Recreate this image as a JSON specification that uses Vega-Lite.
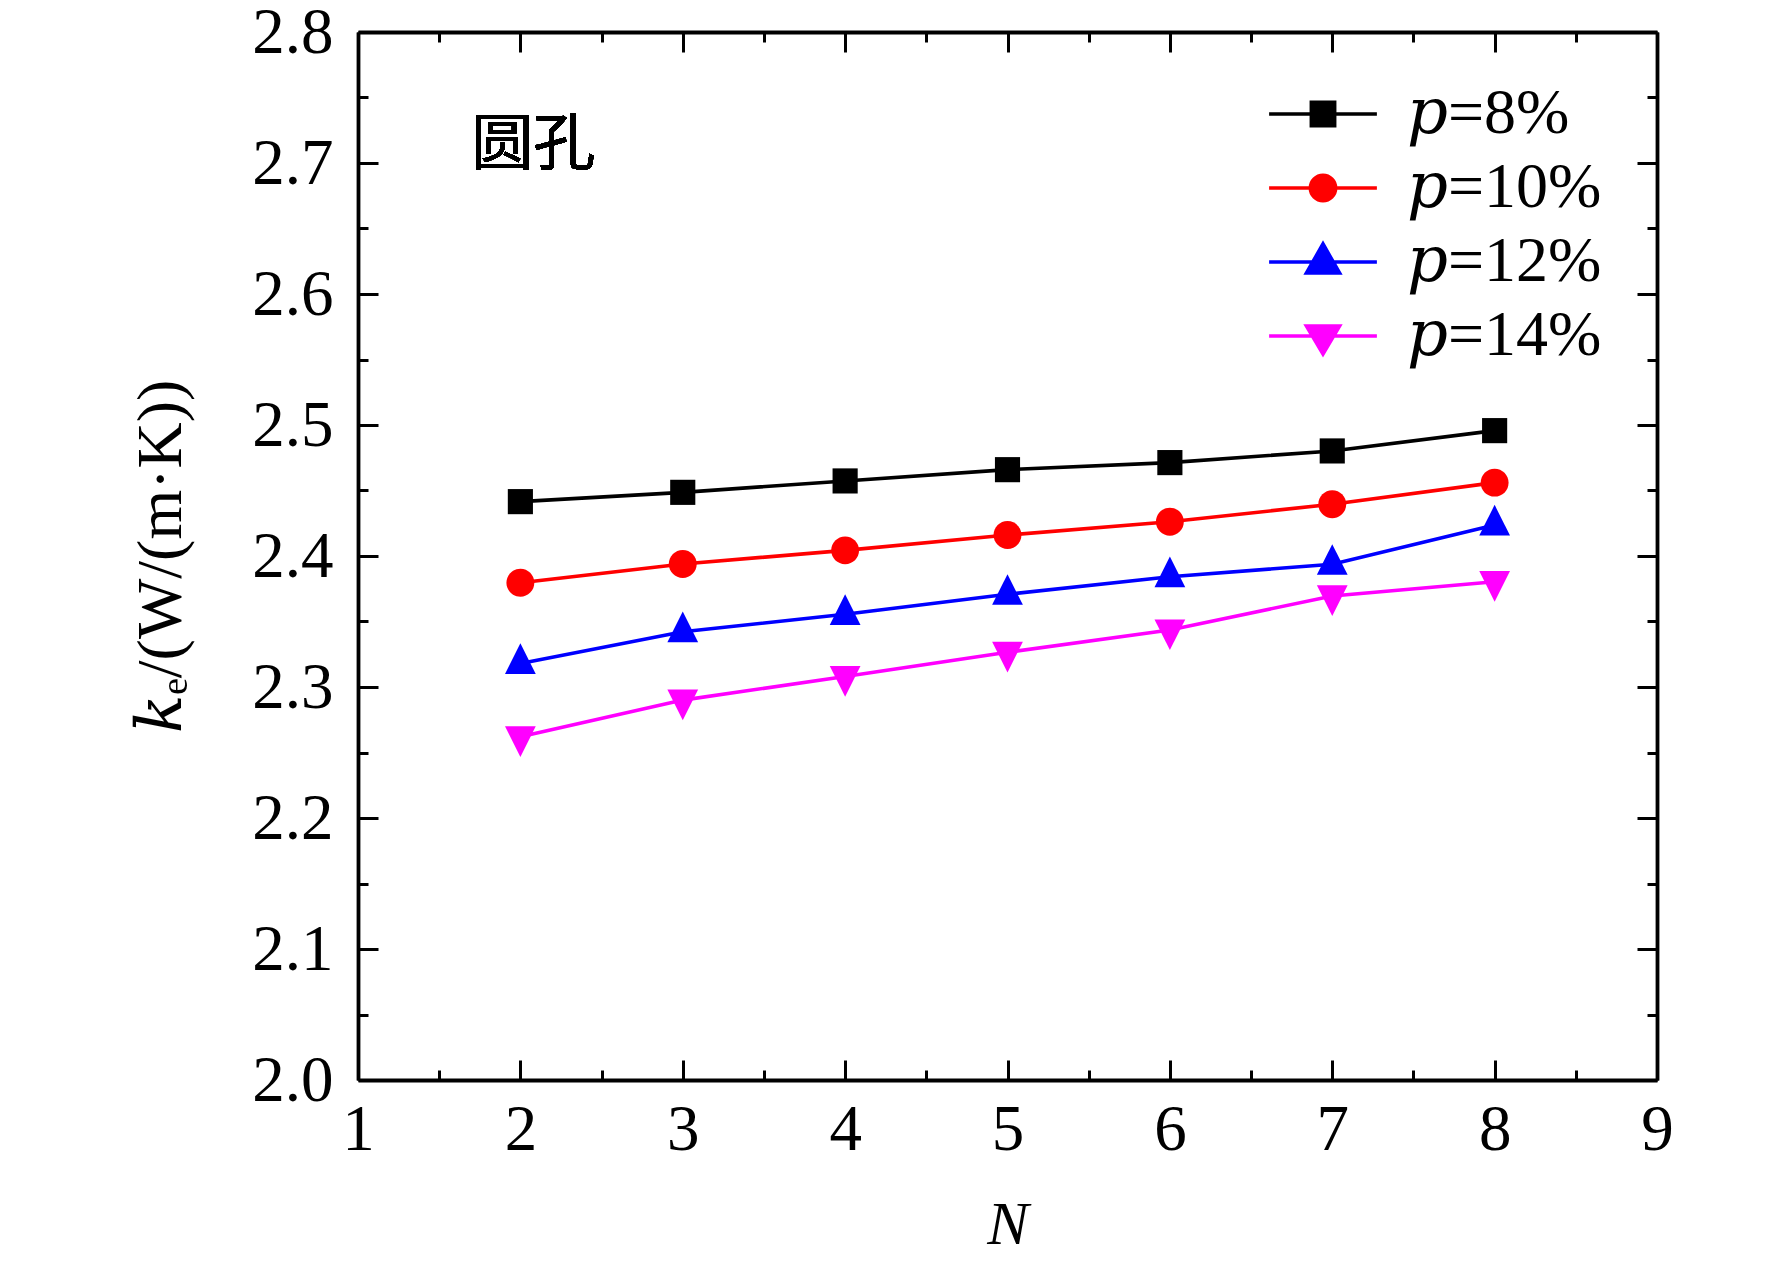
{
  "$schema": "https://vega.github.io/schema/vega-lite/v6.json",
  "width": 1299,
  "height": 1048,
  "autosize": {"type": "none"},
  "padding": {"left": 358, "top": 32, "right": 115, "bottom": 189},
  "background": "white",
  "data": {
    "values": [
      {"N": 2, "ke": 2.4415, "series": "𝑝=8%"},
      {"N": 3, "ke": 2.4486, "series": "𝑝=8%"},
      {"N": 4, "ke": 2.4573, "series": "𝑝=8%"},
      {"N": 5, "ke": 2.4659, "series": "𝑝=8%"},
      {"N": 6, "ke": 2.4713, "series": "𝑝=8%"},
      {"N": 7, "ke": 2.4802, "series": "𝑝=8%"},
      {"N": 8, "ke": 2.4957, "series": "𝑝=8%"},
      {"N": 2, "ke": 2.3796, "series": "𝑝=10%"},
      {"N": 3, "ke": 2.3939, "series": "𝑝=10%"},
      {"N": 4, "ke": 2.4043, "series": "𝑝=10%"},
      {"N": 5, "ke": 2.416, "series": "𝑝=10%"},
      {"N": 6, "ke": 2.4262, "series": "𝑝=10%"},
      {"N": 7, "ke": 2.4395, "series": "𝑝=10%"},
      {"N": 8, "ke": 2.456, "series": "𝑝=10%"},
      {"N": 2, "ke": 2.318, "series": "𝑝=12%"},
      {"N": 3, "ke": 2.3422, "series": "𝑝=12%"},
      {"N": 4, "ke": 2.3555, "series": "𝑝=12%"},
      {"N": 5, "ke": 2.3708, "series": "𝑝=12%"},
      {"N": 6, "ke": 2.3842, "series": "𝑝=12%"},
      {"N": 7, "ke": 2.3937, "series": "𝑝=12%"},
      {"N": 8, "ke": 2.4237, "series": "𝑝=12%"},
      {"N": 2, "ke": 2.262, "series": "𝑝=14%"},
      {"N": 3, "ke": 2.29, "series": "𝑝=14%"},
      {"N": 4, "ke": 2.308, "series": "𝑝=14%"},
      {"N": 5, "ke": 2.3265, "series": "𝑝=14%"},
      {"N": 6, "ke": 2.3435, "series": "𝑝=14%"},
      {"N": 7, "ke": 2.3695, "series": "𝑝=14%"},
      {"N": 8, "ke": 2.3804, "series": "𝑝=14%"}
    ]
  },
  "layer": [
    {
      "mark": {"type": "line", "strokeWidth": 3.6},
      "encoding": {
        "x": {
          "field": "N",
          "type": "quantitative",
          "scale": {"domain": [1, 9], "nice": false, "zero": false},
          "axis": {
            "orient": "bottom",
            "values": [1, 1.5, 2, 2.5, 3, 3.5, 4, 4.5, 5, 5.5, 6, 6.5, 7, 7.5, 8, 8.5, 9],
            "tickSize": {"condition": {"test": "datum.value % 1 === 0", "value": -20}, "value": -10},
            "labelExpr": "datum.value % 1 === 0 ? format(datum.value, 'd') : ''",
            "labelPadding": 38,
            "title": "N",
            "titleFontStyle": "italic",
            "titlePadding": 22
          }
        },
        "y": {
          "field": "ke",
          "type": "quantitative",
          "scale": {"domain": [2.0, 2.8], "nice": false, "zero": false},
          "axis": {
            "orient": "left",
            "values": [2, 2.05, 2.1, 2.15, 2.2, 2.25, 2.3, 2.35, 2.4, 2.45, 2.5, 2.55, 2.6, 2.65, 2.7, 2.75, 2.8],
            "tickSize": {"condition": {"test": "round(datum.value * 100) % 10 === 0", "value": -20}, "value": -10},
            "labelExpr": "round(datum.value * 100) % 10 === 0 ? format(datum.value, '.1f') : ''",
            "labelPadding": 45,
            "title": "𝑘ₑ/(W/(m·K))",
            "titleFontSize": 64,
            "titlePadding": 58
          }
        },
        "color": {
          "field": "series",
          "type": "nominal",
          "scale": {
            "domain": ["𝑝=8%", "𝑝=10%", "𝑝=12%", "𝑝=14%"],
            "range": ["#000000", "#ff0000", "#0000ff", "#ff00ff"]
          },
          "legend": {
            "orient": "none",
            "legendX": 933,
            "legendY": 50,
            "title": null,
            "labelFont": "Liberation Serif, DejaVu Serif",
            "labelFontSize": 64,
            "labelColor": "black",
            "labelLimit": 500,
            "labelOffset": 52,
            "symbolSize": 600,
            "rowPadding": 10,
            "padding": 0,
            "encode": {
              "symbols": {
                "update": {
                  "shape": {"signal": "datum.value === '𝑝=8%' ? 'M-4.4,0H4.4M-0.95,-0.95H0.95V0.95H-0.95Z' : datum.value === '𝑝=10%' ? 'M-4.4,0H4.4M-1.03,0A1.03,1.03 0 1,0 1.03,0A1.03,1.03 0 1,0 -1.03,0Z' : datum.value === '𝑝=12%' ? 'M-4.4,0H4.4M0,-1.47L1.35,0.9H-1.35Z' : 'M-4.4,0H4.4M-1.35,-0.82H1.35L0,1.47Z'"},
                  "fill": {"scale": "color", "field": "value"},
                  "stroke": {"scale": "color", "field": "value"},
                  "strokeWidth": {"value": 3.6},
                  "opacity": {"value": 1},
                  "fillOpacity": {"value": 1},
                  "strokeOpacity": {"value": 1}
                }
              }
            }
          }
        }
      }
    },
    {
      "mark": {"type": "point", "filled": true, "opacity": 1, "strokeWidth": 0},
      "encoding": {
        "x": {
          "field": "N",
          "type": "quantitative",
          "axis": {
            "orient": "top",
            "values": [1, 1.5, 2, 2.5, 3, 3.5, 4, 4.5, 5, 5.5, 6, 6.5, 7, 7.5, 8, 8.5, 9],
            "tickSize": {"condition": {"test": "datum.value % 1 === 0", "value": -20}, "value": -10},
            "labels": false,
            "title": null
          }
        },
        "y": {
          "field": "ke",
          "type": "quantitative",
          "axis": {
            "orient": "right",
            "values": [2, 2.05, 2.1, 2.15, 2.2, 2.25, 2.3, 2.35, 2.4, 2.45, 2.5, 2.55, 2.6, 2.65, 2.7, 2.75, 2.8],
            "tickSize": {"condition": {"test": "round(datum.value * 100) % 10 === 0", "value": -20}, "value": -10},
            "labels": false,
            "title": null
          }
        },
        "color": {"field": "series", "type": "nominal"},
        "shape": {
          "condition": [
            {"test": "datum.series === '𝑝=8%'", "value": "M-0.9,-0.9H0.9V0.9H-0.9Z"},
            {"test": "datum.series === '𝑝=10%'", "value": "M-1,0A1,1 0 1,0 1,0A1,1 0 1,0 -1,0Z"},
            {"test": "datum.series === '𝑝=12%'", "value": "M0,-1.44L1.1,0.76H-1.1Z"}
          ],
          "value": "M-1.1,-0.76H1.1L0,1.44Z"
        },
        "size": {"value": 780}
      }
    },
    {
      "mark": {"type": "text", "align": "center", "baseline": "middle", "font": "Noto Sans CJK SC", "fontSize": 62, "color": "black"},
      "encoding": {
        "x": {"datum": 2.08, "type": "quantitative", "axis": null},
        "y": {"datum": 2.713, "type": "quantitative", "axis": null},
        "text": {"value": "圆孔"}
      }
    }
  ],
  "resolve": {"axis": {"x": "independent", "y": "independent"}},
  "config": {
    "view": {"stroke": null},
    "axis": {
      "domainColor": "black",
      "domainWidth": 3.8,
      "tickColor": "black",
      "tickWidth": 3,
      "grid": false,
      "labelFont": "Liberation Serif",
      "labelFontSize": 65,
      "labelColor": "black",
      "titleFont": "Liberation Serif, DejaVu Serif",
      "titleFontSize": 62,
      "titleFontWeight": "normal",
      "titleColor": "black",
      "labelFlush": false,
      "labelOverlap": false
    }
  }
}
